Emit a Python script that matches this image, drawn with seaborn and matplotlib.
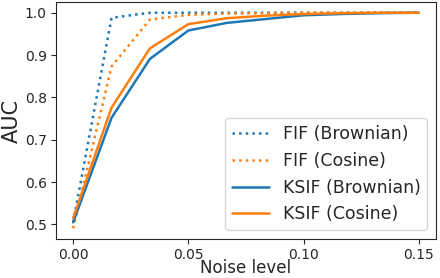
import numpy as np
import pandas as pd
import matplotlib
matplotlib.use("Agg")
import matplotlib.pyplot as plt
import seaborn as sns

# niveles de ruido (x) y AUC de cada método
noise = [0.0, 1/60, 2/60, 3/60, 4/60, 5/60, 6/60, 7/60, 8/60, 9/60]
fif_brownian = [0.505, 0.988, 1.0, 1.0, 1.0, 1.0, 1.0, 1.0, 1.0, 1.0]
fif_cosine = [0.491, 0.873, 0.984, 0.995, 0.998, 0.999, 1.0, 1.0, 1.0, 1.0]
ksif_brownian = [0.505, 0.752, 0.891, 0.958, 0.976, 0.985, 0.994, 0.997, 0.999, 1.0]
ksif_cosine = [0.515, 0.776, 0.916, 0.973, 0.987, 0.993, 0.997, 0.999, 1.0, 1.0]

series = [
    ("FIF (Brownian)", fif_brownian, "tab:blue", ":"),
    ("FIF (Cosine)", fif_cosine, "tab:orange", ":"),
    ("KSIF (Brownian)", ksif_brownian, "tab:blue", "-"),
    ("KSIF (Cosine)", ksif_cosine, "tab:orange", "-"),
]

sns.set_style("ticks")
plt.rcParams['font.family'] = ['DejaVu Sans']

fig, ax = plt.subplots(figsize=(4.4, 2.78), dpi=100)
for nombre, vals, color, ls in series:
    df = pd.DataFrame({"x": noise, "y": vals})
    sns.lineplot(data=df, x="x", y="y", ax=ax, color=color, linestyle=ls,
                 linewidth=1.8, label=nombre)

ax.set_xticks([0.0, 0.05, 0.10, 0.15])
ax.set_xticklabels(["0.00", "0.05", "0.10", "0.15"])
ax.set_yticks([0.5, 0.6, 0.7, 0.8, 0.9, 1.0])
ax.tick_params(labelsize=10, pad=3)
ax.set_xlabel("Noise level", fontsize=12, labelpad=-2)
ax.set_ylabel("AUC", fontsize=15, labelpad=2)
ax.legend(loc="lower right", fontsize=12.5, handlelength=2.1)

fig.subplots_adjust(left=0.127, right=0.991, top=0.993, bottom=0.14)
fig.savefig("out.png", dpi=100)
